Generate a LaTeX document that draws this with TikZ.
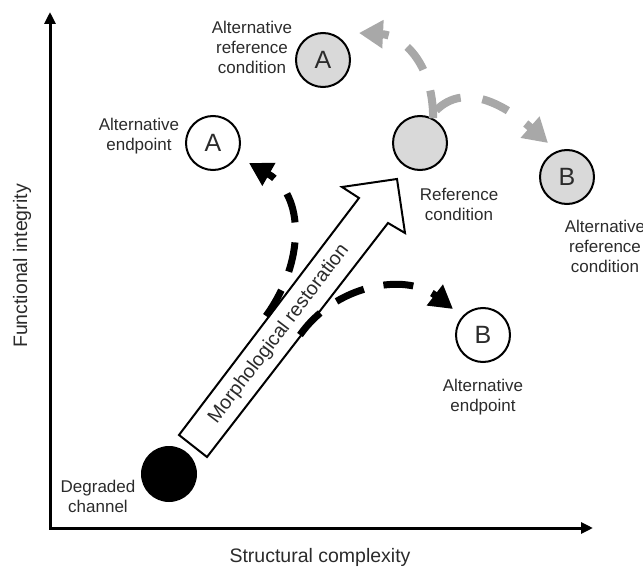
\documentclass[tikz,border=0pt]{standalone}
\usepackage{fontspec}
\setmainfont{Liberation Sans}
\usetikzlibrary{arrows.meta,calc}
\definecolor{txt}{HTML}{2B2B2B}
\definecolor{cfill}{HTML}{D9D9D9}
\definecolor{garrow}{HTML}{A8A8A8}
\begin{document}
\begin{tikzpicture}[x=1pt,y=-1pt,
  lbl/.style={font=\fontsize{17}{20}\selectfont, text=txt, align=center, inner sep=0pt},
  axlbl/.style={font=\fontsize{19.5}{23}\selectfont, text=txt, inner sep=0pt},
  state/.style={circle, draw=black, line width=2pt, minimum size=54pt, inner sep=0pt, text=txt, font=\fontsize{25}{25}\selectfont},
  refstate/.style={state, fill=cfill},
  endstate/.style={state, fill=white},
  axisline/.style={line width=3pt, {Triangle[length=12pt,width=11pt]}-{Triangle[length=12pt,width=11pt]}},
  blackpath/.style={draw=black, line width=7pt, dash pattern=on 30pt off 20pt, -{Triangle[length=23pt,width=25pt]}},
  graypath/.style={draw=garrow, line width=8pt, dash pattern=on 28pt off 22pt, -{Triangle[length=24pt,width=27pt]}},
  bigarrow/.style={draw=black, line width=2pt, fill=white, line join=miter},
]
\useasboundingbox (0,0) rectangle (643,567);

% axes
\coordinate (O) at (50,528);
\coordinate (ytop) at (50,12);
\coordinate (xend) at (593,528);
\draw[axisline] (ytop) -- (O) -- (xend);
\node[axlbl, rotate=90] (ylab) at (22,266) {Functional integrity};
\node[axlbl] (xlab) at (320,557) {Structural complexity};

% states
\node[circle, fill=black, minimum size=56pt, inner sep=0pt] (deg) at (169,474) {};
\node[refstate] (ref) at (420,143) {};
\node[refstate] (refA) at (323,60) {A};
\node[refstate] (refB) at (567,177) {B};
\node[endstate] (endA) at (213,143) {A};
\node[endstate] (endB) at (483,335) {B};

% labels
\node[lbl] (ldeg) at (98,496) {Degraded\\channel};
\node[lbl] (lref) at (459,204) {Reference\\condition};
\node[lbl] (lrefA) at (252,47.5) {Alternative\\reference\\condition};
\node[lbl] (lrefB) at (605,246.5) {Alternative\\reference\\condition};
\node[lbl] (lendA) at (139,136) {Alternative\\endpoint};
\node[lbl] (lendB) at (483,397) {Alternative\\endpoint};

% big arrow
\draw[bigarrow] (179,435) -- (359,198) -- (342,187) -- (397,179) -- (405,233) -- (388,223) -- (207,457) -- cycle;
\node[axlbl, rotate=52.8] (mr) at (279,334) {Morphological restoration};

% black dashed connectors
\coordinate (sA) at (266,316);
\coordinate (sB) at (300,335);
\coordinate (eA) at (249,163);
\coordinate (eB) at (453,309);
\draw[blackpath] (sA) .. controls (305,262) and (305,195) .. (eA);
\draw[blackpath] (sB) .. controls (335,285) and (405,272) .. (eB);

% gray dashed connectors
\coordinate (gA) at (359,33);
\coordinate (gB) at (548,143);
\draw[graypath] (ref.62) .. controls (433,60) and (400,35) .. (gA);
\draw[graypath] ($(ref.62)+(3,-8)$) .. controls (465,82) and (505,105) .. (gB);
\end{tikzpicture}
\end{document}
